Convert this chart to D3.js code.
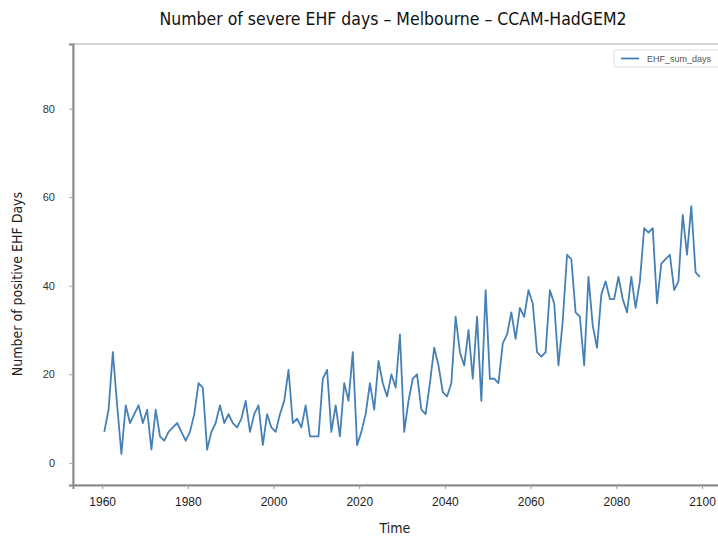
<!DOCTYPE html>
<html>
<head>
<meta charset="utf-8">
<script src="https://cdn.jsdelivr.net/npm/d3@7"></script>
<style>
  body { margin: 0; background: #fff; }
  svg { display: block; }
</style>
</head>
<body>
<div id="chart"></div>
<script>
// annual count of severe EHF days, 1960..2099
var startYear = 1960;
var ehfDays = [7, 12, 25, 13, 2, 13, 9, 11, 13, 9,
    12, 3, 12, 6, 5, 7, 8, 9, 7, 5,
    7, 11, 18, 17, 3, 7, 9, 13, 9, 11,
    9, 8, 10, 14, 7, 11, 13, 4, 11, 8,
    7, 11, 14, 21, 9, 10, 8, 13, 6, 6,
    6, 19, 21, 7, 13, 6, 18, 14, 25, 4,
    7, 11, 18, 12, 23, 18, 15, 20, 17, 29,
    7, 14, 19, 20, 12, 11, 18, 26, 22, 16,
    15, 18, 33, 25, 22, 30, 19, 33, 14, 39,
    19, 19, 18, 27, 29, 34, 28, 35, 33, 39,
    36, 25, 24, 25, 39, 36, 22, 32, 47, 46,
    34, 33, 22, 42, 31, 26, 38, 41, 37, 37,
    42, 37, 34, 42, 35, 41, 53, 52, 53, 36,
    45, 46, 47, 39, 41, 56, 47, 58, 43, 42];
var years = d3.range(startYear, startYear + ehfDays.length);
var xTicks = [1960, 1980, 2000, 2020, 2040, 2060, 2080, 2100];
var yTicks = [0, 20, 40, 60, 80];
var seriesName = "EHF_sum_days";

var width = 718, height = 537;
var plot = {left: 73, top: 44, right: 729, bottom: 485};

var svg = d3.select("#chart").append("svg")
    .attr("width", width)
    .attr("height", height);

var x = d3.scaleLinear()
    .domain([1953.2, 2106.3])
    .range([plot.left, plot.right]);

var y = d3.scaleLinear()
    .domain([-5, 94.6])
    .range([plot.bottom, plot.top]);

// frame
svg.append("rect")
    .attr("x", plot.left)
    .attr("y", plot.top)
    .attr("width", plot.right - plot.left)
    .attr("height", plot.bottom - plot.top)
    .attr("fill", "none")
    .attr("stroke", "#b8b8b8")
    .attr("stroke-width", 1.2);

// x axis
var xAxis = svg.append("g")
    .attr("transform", "translate(0," + plot.bottom + ")")
    .call(d3.axisBottom(x).tickValues(xTicks).tickFormat(d3.format("d")).tickSize(4).tickPadding(8));
xAxis.select(".domain").attr("stroke", "#8a8a8a").attr("stroke-width", 2);
xAxis.selectAll(".tick line").attr("stroke", "#999");
xAxis.selectAll("text")
    .attr("fill", "#222")
    .style("font-family", "'Liberation Sans', Arial, sans-serif")
    .style("font-size", "12px");

// y axis
var yAxis = svg.append("g")
    .attr("transform", "translate(" + plot.left + ",0)")
    .call(d3.axisLeft(y).tickValues(yTicks).tickSize(4).tickPadding(14));
yAxis.select(".domain").attr("stroke", "#8a8a8a").attr("stroke-width", 2);
yAxis.selectAll(".tick line").attr("stroke", "#aaa");
yAxis.selectAll("text")
    .attr("fill", "#333")
    .style("font-family", "'Liberation Sans', Arial, sans-serif")
    .style("font-size", "11px");

// the series
var line = d3.line()
    .x(function(d, i) { return x(years[i] + 0.5); })
    .y(function(d) { return y(d); });

svg.append("path")
    .datum(ehfDays)
    .attr("d", line)
    .attr("fill", "none")
    .attr("stroke", "#4580b6")
    .attr("stroke-width", 1.8)
    .attr("stroke-linejoin", "round");

// legend
var legend = svg.append("g").attr("transform", "translate(614,50)");
legend.append("rect")
    .attr("width", 120)
    .attr("height", 17)
    .attr("rx", 2)
    .attr("fill", "#fff")
    .attr("stroke", "#ddd");
legend.append("line")
    .attr("x1", 7).attr("x2", 25)
    .attr("y1", 8.5).attr("y2", 8.5)
    .attr("stroke", "#4580b6")
    .attr("stroke-width", 1.8);
legend.append("text")
    .attr("x", 33)
    .attr("y", 12)
    .attr("fill", "#555")
    .style("font-family", "'Liberation Sans', Arial, sans-serif")
    .style("font-size", "9px")
    .text(seriesName);

// titles
svg.append("text")
    .attr("x", 393)
    .attr("y", 25)
    .attr("text-anchor", "middle")
    .attr("fill", "#111")
    .style("font-family", "'Liberation Sans Narrow', 'DejaVu Sans Condensed', sans-serif")
    .style("font-size", "17.5px")
    .text("Number of severe EHF days \u2013 Melbourne \u2013 CCAM-HadGEM2");

svg.append("text")
    .attr("x", 395)
    .attr("y", 533)
    .attr("text-anchor", "middle")
    .attr("fill", "#222")
    .style("font-family", "'Liberation Sans Narrow', 'DejaVu Sans Condensed', sans-serif")
    .style("font-size", "14px")
    .text("Time");

svg.append("text")
    .attr("transform", "translate(22,284) rotate(-90)")
    .attr("text-anchor", "middle")
    .attr("fill", "#222")
    .style("font-family", "'Liberation Sans Narrow', 'DejaVu Sans Condensed', sans-serif")
    .style("font-size", "14px")
    .text("Number of positive EHF Days");
</script>
</body>
</html>
